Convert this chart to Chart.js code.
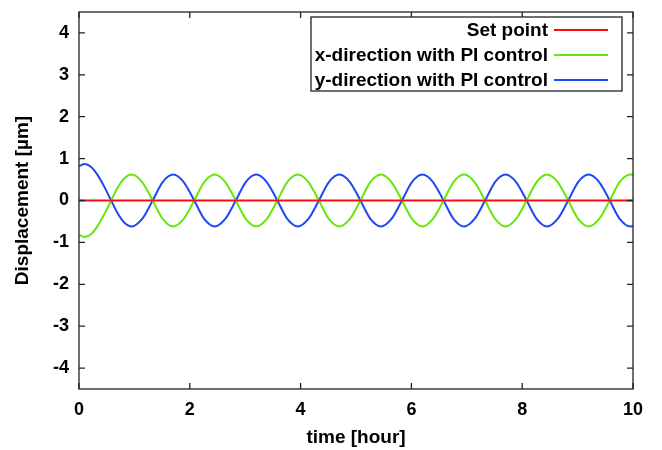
<!DOCTYPE html>
<html>
<head>
<meta charset="utf-8">
<title>Displacement with PI control</title>
<script src="https://cdn.jsdelivr.net/npm/chart.js@4.4.1/dist/chart.umd.min.js"></script>
<style>
    html, body { margin: 0; padding: 0; background: #fff; }
    #wrap { width: 662px; height: 450px; }
</style>
</head>
<body>
<div id="wrap"><canvas id="dispChart"></canvas></div>
<script>
// time axis [hour]
const times = [0, 0.1, 0.22, 0.34, 0.46, 0.58, 0.70, 0.82, 0.95,
    1.14, 1.33, 1.51, 1.70, 1.89, 2.08, 2.26, 2.45,
    2.64, 2.83, 3.01, 3.20, 3.39, 3.58, 3.76, 3.95,
    4.14, 4.33, 4.51, 4.70, 4.89, 5.08, 5.26, 5.45,
    5.64, 5.83, 6.01, 6.20, 6.39, 6.58, 6.76, 6.95,
    7.14, 7.33, 7.51, 7.70, 7.89, 8.08, 8.26, 8.45,
    8.64, 8.83, 9.01, 9.20, 9.39, 9.58, 9.76, 9.95, 10.0];

// x-direction displacement [um]
const xDirection = [-0.82, -0.87, -0.80, -0.60, -0.32, 0, 0.31, 0.53, 0.62,
    0.44, 0, -0.44, -0.62, -0.44, 0, 0.44, 0.62,
    0.44, 0, -0.44, -0.62, -0.44, 0, 0.44, 0.62,
    0.44, 0, -0.44, -0.62, -0.44, 0, 0.44, 0.62,
    0.44, 0, -0.44, -0.62, -0.44, 0, 0.44, 0.62,
    0.44, 0, -0.44, -0.62, -0.44, 0, 0.44, 0.62,
    0.44, 0, -0.44, -0.62, -0.44, 0, 0.44, 0.62, 0.61];

// y-direction displacement [um]
const yDirection = [0.82, 0.87, 0.80, 0.60, 0.32, 0, -0.31, -0.53, -0.62,
    -0.44, 0, 0.44, 0.62, 0.44, 0, -0.44, -0.62,
    -0.44, 0, 0.44, 0.62, 0.44, 0, -0.44, -0.62,
    -0.44, 0, 0.44, 0.62, 0.44, 0, -0.44, -0.62,
    -0.44, 0, 0.44, 0.62, 0.44, 0, -0.44, -0.62,
    -0.44, 0, 0.44, 0.62, 0.44, 0, -0.44, -0.62,
    -0.44, 0, 0.44, 0.62, 0.44, 0, -0.44, -0.62, -0.61];

const setPointTimes = [0, 10];
const setPointValues = [0, 0];

const xTicks = [0, 2, 4, 6, 8, 10];
const yTicks = [-4, -3, -2, -1, 0, 1, 2, 3, 4];

const FONT = '"Liberation Sans", Arial, Helvetica, sans-serif';

function toPoints(xs, ys) {
    return xs.map((t, i) => ({ x: t, y: ys[i] }));
}

// gnuplot style frame with inward ticks on all four sides
const framePlugin = {
    id: 'frame',
    afterDatasetsDraw(chart) {
        const { ctx, chartArea: a, scales } = chart;
        const len = 6;
        ctx.save();
        ctx.strokeStyle = '#222';
        ctx.lineWidth = 1.3;
        ctx.strokeRect(a.left, a.top, a.right - a.left, a.bottom - a.top);
        ctx.beginPath();
        xTicks.forEach(v => {
            const px = scales.x.getPixelForValue(v);
            ctx.moveTo(px, a.bottom); ctx.lineTo(px, a.bottom - len);
            ctx.moveTo(px, a.top); ctx.lineTo(px, a.top + len);
        });
        yTicks.forEach(v => {
            const py = scales.y.getPixelForValue(v);
            ctx.moveTo(a.left, py); ctx.lineTo(a.left + len, py);
            ctx.moveTo(a.right, py); ctx.lineTo(a.right - len, py);
        });
        ctx.stroke();
        ctx.restore();
    }
};

// boxed legend, text right-aligned before the line sample
const keyPlugin = {
    id: 'key',
    afterDraw(chart) {
        const { ctx, chartArea: a } = chart;
        const boxRight = a.right - 11;
        const boxLeft = boxRight - 311;
        const boxTop = a.top + 5;
        const rowH = 25;
        const sets = chart.data.datasets;
        ctx.save();
        ctx.fillStyle = '#fff';
        ctx.fillRect(boxLeft, boxTop, boxRight - boxLeft, rowH * sets.length - 1);
        ctx.strokeStyle = '#222';
        ctx.lineWidth = 1.3;
        ctx.strokeRect(boxLeft, boxTop, boxRight - boxLeft, rowH * sets.length - 1);
        ctx.font = 'bold 19px ' + FONT;
        ctx.textAlign = 'right';
        ctx.textBaseline = 'middle';
        sets.forEach((ds, i) => {
            const y = boxTop + 13 + i * rowH;
            ctx.fillStyle = '#000';
            ctx.fillText(ds.label, boxRight - 74, y + 1);
            ctx.strokeStyle = ds.borderColor;
            ctx.lineWidth = 1.8;
            ctx.beginPath();
            ctx.moveTo(boxRight - 68, y);
            ctx.lineTo(boxRight - 14, y);
            ctx.stroke();
        });
        ctx.restore();
    }
};

const chart = new Chart(document.getElementById('dispChart'), {
    type: 'line',
    data: {
        datasets: [
            {
                label: 'Set point',
                data: toPoints(setPointTimes, setPointValues),
                borderColor: '#ff0a0a',
                borderWidth: 2,
                pointRadius: 0
            },
            {
                label: 'x-direction with PI control',
                data: toPoints(times, xDirection),
                borderColor: '#66e60a',
                borderWidth: 2,
                pointRadius: 0,
                cubicInterpolationMode: 'monotone'
            },
            {
                label: 'y-direction with PI control',
                data: toPoints(times, yDirection),
                borderColor: '#1f48f0',
                borderWidth: 2,
                pointRadius: 0,
                cubicInterpolationMode: 'monotone'
            }
        ]
    },
    options: {
        responsive: true,
        maintainAspectRatio: false,
        animation: false,
        layout: {
            padding: { top: 12, right: 29, left: 0, bottom: 0 }
        },
        plugins: {
            legend: { display: false },
            tooltip: { enabled: false }
        },
        scales: {
            x: {
                type: 'linear',
                min: 0,
                max: 10,
                afterBuildTicks: scale => { scale.ticks = xTicks.map(v => ({ value: v })); },
                afterFit: scale => {
                    scale.height = 61;
                    scale.paddingLeft = 0;
                    scale.paddingRight = 0;
                },
                grid: { display: false, drawTicks: false },
                border: { display: false },
                ticks: {
                    padding: 10,
                    color: '#000',
                    maxRotation: 0,
                    font: { family: FONT, size: 18, weight: 'bold' }
                },
                title: {
                    display: true,
                    text: 'time [hour]',
                    color: '#000',
                    padding: { top: 0, bottom: 1 },
                    font: { family: FONT, size: 19, weight: 'bold' }
                }
            },
            y: {
                min: -4.5,
                max: 4.5,
                afterBuildTicks: scale => { scale.ticks = yTicks.map(v => ({ value: v })); },
                afterFit: scale => {
                    scale.width = 79;
                    scale.paddingTop = 0;
                    scale.paddingBottom = 0;
                },
                grid: { display: false, drawTicks: false },
                border: { display: false },
                ticks: {
                    padding: 10,
                    color: '#000',
                    font: { family: FONT, size: 18, weight: 'bold' }
                },
                title: {
                    display: true,
                    text: 'Displacement [µm]',
                    color: '#000',
                    padding: { top: 11, bottom: 0 },
                    font: { family: FONT, size: 19, weight: 'bold' }
                }
            }
        }
    },
    plugins: [framePlugin, keyPlugin]
});
</script>
</body>
</html>
